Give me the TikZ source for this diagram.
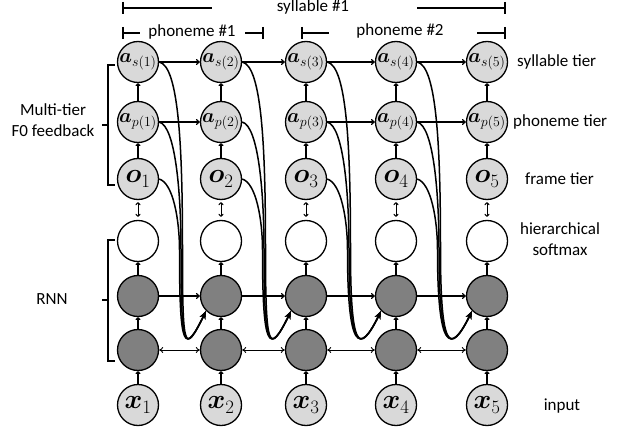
\documentclass[tikz,border=0pt]{standalone}
\usepackage{fix-cm}
\usepackage{bm}
\usepackage{fontspec}
\setmainfont{Carlito}
\usetikzlibrary{arrows.meta}
\definecolor{lgray}{HTML}{D9D9D9}
\definecolor{dgray}{HTML}{808080}
\newcommand{\amath}{\fontsize{20}{22}\selectfont}
\newcommand{\omath}{\fontsize{27}{29}\selectfont}
\begin{document}
\begin{tikzpicture}[x=1pt,y=-1pt,
  unit/.style={circle, draw, line width=1.3pt, minimum size=41pt, inner sep=0pt},
  obs/.style={unit, fill=lgray},
  hid/.style={unit, fill=dgray},
  soft/.style={unit, fill=white},
  lab/.style={font=\fontsize{17}{21}\selectfont, inner sep=0pt},
  varr/.style={line width=1.3pt, -{To[length=3pt,width=5pt]}},
  harr/.style={line width=1.2pt, -{To[length=4pt,width=6pt]}},
  bidir/.style={line width=0.9pt, {To[length=4pt,width=6pt]}-{To[length=4pt,width=6pt]}},
  dbl/.style={line width=1pt, {To[length=3pt,width=5pt]}-{To[length=3pt,width=5pt]}},
  fb/.style={line width=1.5pt, -{Stealth[length=8pt,width=6pt]}},
  barln/.style={line width=1.4pt},
]
\useasboundingbox (0,0) rectangle (628,430);
\foreach \i/\xx in {1/138,2/221,3/306,4/396,5/487} {
  \node[obs,font=\amath] (s\i) at (\xx,62) {$\bm{a}_{s(\i)}$};
  \node[obs,font=\amath] (p\i) at (\xx,122) {$\bm{a}_{p(\i)}$};
  \node[obs,font=\omath] (o\i) at (\xx,179) {$\bm{o}_{\i}$};
  \node[soft] (w\i) at (\xx,241) {};
  \node[hid] (h\i) at (\xx,296) {};
  \node[hid] (g\i) at (\xx,350) {};
  \node[obs,font=\omath] (x\i) at (\xx,405) {$\bm{x}_{\i}$};
  \coordinate (ms\i) at ([xshift=44.5pt,yshift=-9pt]w\i.center);
  \coordinate (mp\i) at ([xshift=43pt,yshift=-9pt]w\i.center);
  \coordinate (mo\i) at ([xshift=41.5pt,yshift=-9pt]w\i.center);
}
\foreach \i in {1,...,5} {
  \draw[varr] (o\i) -- (p\i);
  \draw[varr] (p\i) -- (s\i);
  \draw[dbl] ([yshift=-2pt]o\i.south) -- ([yshift=3pt]w\i.north);
  \draw[varr] (h\i) -- (w\i);
  \draw[varr] (g\i) -- (h\i);
  \draw[varr] (x\i) -- (g\i);
}
\foreach \i/\j in {1/2,2/3,3/4,4/5} {
  \draw[harr] (s\i) -- (s\j);
  \draw[harr] (h\i) -- (h\j);
  \draw[bidir] (g\i) -- (g\j);
  \draw[fb] (s\i.east) .. controls +(20,4) and +(0,-100) .. (ms\i)
            .. controls +(0,100) and +(-22,45) .. (h\j.south west);
  \draw[fb] (p\i.east) .. controls +(16,4) and +(0,-60) .. (mp\i)
            .. controls +(0,100) and +(-22,45) .. (h\j.south west);
  \draw[fb] (o\i.east) .. controls +(14,4) and +(0,-30) .. (mo\i)
            .. controls +(0,100) and +(-22,45) .. (h\j.south west);
}
\foreach \i/\j in {1/2,3/4,4/5} \draw[harr] (p\i) -- (p\j);
% top brackets
\node[lab] (syl) at (313,7) {syllable \#1};
\draw[barln] (123,2) -- (123,14) (123,8) -- (212,8);
\draw[barln] (417,8) -- (505,8) (505,2) -- (505,14);
\node[lab] (ph1) at (192,32) {phoneme \#1};
\draw[barln] (123,27) -- (123,39) (123,33) -- (140,33);
\draw[barln] (245,33) -- (263,33) (263,27) -- (263,39);
\node[lab] (ph2) at (400,31) {phoneme \#2};
\draw[barln] (302,27) -- (302,39) (302,33) -- (329,33);
\draw[barln] (477,33) -- (505,33) (505,27) -- (505,39);
% left brackets
\draw[barln] (115,65) -- (108,65) -- (108,185) -- (115,185) (108,125) -- (102,125);
\node[lab, align=center] (mt) at (53,120) {Multi-tier\\F0 feedback};
\draw[barln] (115,240) -- (108,240) -- (108,361) -- (115,361) (108,300) -- (102,300);
\node[lab] (rnn) at (52,299) {RNN};
% right labels
\node[lab, anchor=west] (lt1) at (517,62) {syllable tier};
\node[lab, anchor=west] (lt2) at (513,122) {phoneme tier};
\node[lab, anchor=west] (lt3) at (525,179) {frame tier};
\node[lab, align=center] (lt4) at (560,239) {hierarchical\\softmax};
\node[lab] (lt5) at (562,406) {input};
\end{tikzpicture}
\end{document}
